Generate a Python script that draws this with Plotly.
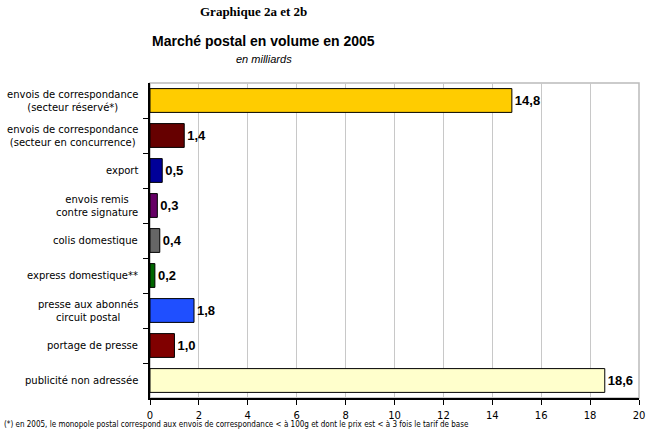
import plotly.graph_objects as go

categories = [
    "envois de correspondance<br>(secteur réservé*)",
    "envois de correspondance<br>(secteur en concurrence)",
    "export",
    "envois remis<br>contre signature",
    "colis domestique",
    "express domestique**",
    "presse aux abonnés<br>circuit postal",
    "portage de presse",
    "publicité non adressée",
]
values = [14.8, 1.4, 0.5, 0.3, 0.4, 0.2, 1.8, 1.0, 18.6]
colors = ["#FFCC00", "#660000", "#000099", "#660066", "#666666",
          "#006600", "#1F4FFF", "#800000", "#FFFFCC"]
x_ticks = list(range(0, 21, 2))

W, H = 652, 430
L, R, T, B = 150, 7, 83, 32
PW, PH = W - L - R, H - T - B

def px(x):
    return (x - L) / PW

def py(y):
    return (H - B - y) / PH

labels = [f"{v:.1f}".replace(".", ",") for v in values]
ids = list(range(len(categories)))

fig = go.Figure(go.Bar(
    x=values, y=ids, orientation="h",
    marker=dict(color=colors, line=dict(color="#000000", width=1)),
    width=0.68,
    text=labels, textposition="outside",
    textfont=dict(family="Liberation Sans, Arial", size=13, color="#000000", weight="bold"),
    cliponaxis=False,
))

annotations = []
for i, c in enumerate(categories):
    annotations.append(dict(
        x=px(140), xref="paper", y=i, yref="y", text=c, showarrow=False,
        xanchor="right", yanchor="middle", align="center",
        font=dict(family="DejaVu Sans", size=10, color="#000000"),
    ))
annotations += [
    dict(x=px(255), y=py(12), xref="paper", yref="paper", text="<b>Graphique 2a et 2b</b>",
         showarrow=False, xanchor="center", yanchor="middle",
         font=dict(family="Liberation Serif, Times New Roman", size=13, color="#000")),
    dict(x=px(265), y=py(41), xref="paper", yref="paper", text="<b>Marché postal en volume en 2005</b>",
         showarrow=False, xanchor="center", yanchor="middle",
         font=dict(family="Liberation Sans, Arial", size=14, color="#000")),
    dict(x=px(265), y=py(59), xref="paper", yref="paper", text="<i>en milliards</i>",
         showarrow=False, xanchor="center", yanchor="middle",
         font=dict(family="Liberation Sans, Arial", size=11, color="#000")),
    dict(x=px(0), y=py(424.5), xref="paper", yref="paper",
         text="(*) en 2005, le monopole postal correspond aux envois de correspondance < à 100g et dont le prix est < à 3 fois le tarif de base",
         showarrow=False, xanchor="left", yanchor="middle",
         font=dict(family="DejaVu Sans Condensed, DejaVu Sans", size=8, color="#000")),
]

fig.update_layout(
    width=W, height=H,
    margin=dict(l=L, r=R, t=T, b=B),
    paper_bgcolor="white", plot_bgcolor="white",
    showlegend=False,
    annotations=annotations,
    shapes=[dict(type="rect", xref="paper", yref="paper", x0=0, x1=1, y0=0, y1=1,
                 line=dict(color="#BBBBBB", width=1.5), layer="below")],
    xaxis=dict(range=[0, 20], tickvals=x_ticks, ticktext=[str(t) for t in x_ticks],
               showgrid=True, gridcolor="#C8C8C8", gridwidth=1,
               showline=True, linecolor="#000000", linewidth=1.5,
               ticks="outside", ticklen=5, tickcolor="#000000",
               ticklabelstandoff=2,
               tickfont=dict(family="DejaVu Sans", size=10, color="#000"),
               zeroline=False, fixedrange=True),
    yaxis=dict(range=[len(categories) - 0.5, -0.5], tickvals=[i + 0.5 for i in ids[:-1]],
               showticklabels=False, showgrid=False,
               showline=True, linecolor="#000000", linewidth=1.5,
               ticks="outside", ticklen=5, tickcolor="#000000",
               zeroline=False, fixedrange=True),
)

fig.write_html("out.html")
